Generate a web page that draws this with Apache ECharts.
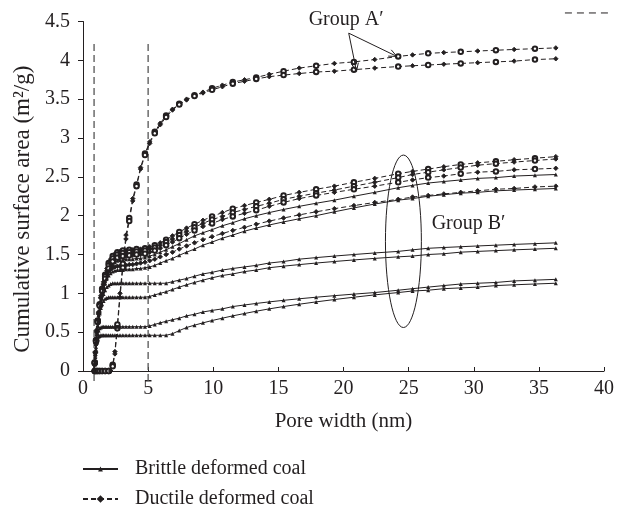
<!DOCTYPE html>
<html><head><meta charset="utf-8">
<script src="https://cdn.jsdelivr.net/npm/echarts@6/dist/echarts.min.js"></script>
<style>html,body{margin:0;padding:0;background:#fff}#c{width:617px;height:511px}</style>
</head><body><div id="c"></div>
<script>
// Pore width grid (nm)
const poreWidth = [0.85,0.9,0.95,1.0,1.06,1.13,1.2,1.28,1.37,1.47,1.58,1.7,1.83,1.97,2.12,2.28,2.45,2.64,2.84,3.06,3.3,3.55,3.82,4.11,4.42,4.76,5.12,5.51,5.93,6.38,6.87,7.39,7.95,8.56,9.21,9.91,10.7,11.5,12.4,13.3,14.3,15.4,16.6,17.9,19.3,20.8,22.4,24.2,25.3,26.5,27.7,29.0,30.3,31.7,33.1,34.7,36.3];

// Ductile deformed coal — Group A'
const ductileA1 = [0,0,0,0,0,0,0,0,0,0,0,0,0,0, 0,0.08,0.25,0.6,1.0,1.38,1.75,1.97,2.22,2.4, 2.62,2.8,2.95,3.08,3.19,3.29,3.37,3.44,3.5,3.55, 3.59,3.64,3.68,3.72,3.75,3.78,3.82,3.86,3.9,3.93, 3.96,3.98,4.01,4.05,4.07,4.09,4.1,4.11,4.12,4.13, 4.14,4.15,4.16];
const ductileA2 = [0,0,0,0,0,0,0,0,0,0,0,0,0,0, 0,0.06,0.22,0.55,0.95,1.33,1.7,1.93,2.19,2.38, 2.6,2.78,2.93,3.06,3.17,3.27,3.36,3.43,3.49,3.54, 3.58,3.62,3.66,3.7,3.73,3.76,3.79,3.81,3.83,3.85, 3.86,3.88,3.9,3.92,3.93,3.94,3.95,3.96,3.97,3.98, 3.99,4.01,4.02];
// Ductile deformed coal — Group B'
const ductileB1 = [0,0.11,0.25,0.4,0.53,0.65,0.76,0.86,0.97,1.06, 1.15,1.24,1.32,1.39,1.44,1.48,1.51,1.53,1.54,1.55, 1.55,1.56,1.56,1.57,1.57,1.58,1.6,1.62,1.65,1.69, 1.74,1.79,1.84,1.89,1.94,1.99,2.04,2.09,2.13,2.17, 2.21,2.26,2.3,2.34,2.38,2.43,2.48,2.54,2.57,2.6, 2.63,2.66,2.68,2.7,2.72,2.74,2.76];
const ductileB2 = [0,0.11,0.24,0.39,0.52,0.64,0.75,0.85,0.95,1.04, 1.13,1.22,1.29,1.36,1.41,1.45,1.48,1.5,1.51,1.52, 1.52,1.53,1.53,1.54,1.54,1.55,1.57,1.59,1.62,1.66, 1.7,1.75,1.8,1.85,1.9,1.95,1.99,2.04,2.08,2.12, 2.16,2.21,2.25,2.29,2.33,2.38,2.43,2.49,2.53,2.56, 2.59,2.62,2.65,2.67,2.69,2.71,2.73];
const ductileB3 = [0,0.1,0.24,0.38,0.51,0.63,0.74,0.84,0.94,1.03, 1.11,1.19,1.26,1.32,1.37,1.41,1.44,1.46,1.47,1.48, 1.48,1.49,1.49,1.5,1.5,1.51,1.53,1.55,1.58,1.62, 1.66,1.71,1.76,1.81,1.86,1.9,1.95,1.99,2.03,2.07, 2.12,2.17,2.22,2.26,2.3,2.34,2.38,2.43,2.46,2.49, 2.51,2.54,2.56,2.57,2.59,2.6,2.61];
const ductileB4 = [0,0.1,0.23,0.36,0.5,0.62,0.73,0.84,0.94,1.03, 1.11,1.18,1.24,1.28,1.31,1.33,1.34,1.35,1.35,1.36, 1.36,1.37,1.37,1.38,1.39,1.4,1.42,1.44,1.47,1.5, 1.53,1.57,1.61,1.65,1.69,1.73,1.77,1.81,1.85,1.89, 1.93,1.97,2.01,2.05,2.09,2.13,2.17,2.21,2.24,2.26, 2.28,2.3,2.32,2.34,2.35,2.37,2.38];

// Brittle deformed coal
const brittle1 = [0,0.1,0.23,0.37,0.5,0.62,0.72,0.82,0.92,1.01, 1.09,1.16,1.23,1.29,1.34,1.37,1.4,1.42,1.43,1.43, 1.44,1.44,1.44,1.45,1.45,1.46,1.48,1.5,1.53,1.56, 1.6,1.64,1.69,1.74,1.78,1.82,1.87,1.91,1.96,2.0, 2.04,2.08,2.12,2.16,2.2,2.25,2.3,2.36,2.39,2.42, 2.44,2.46,2.48,2.49,2.51,2.52,2.53];
const brittle2 = [0,0.1,0.22,0.35,0.48,0.59,0.69,0.79,0.89,0.98, 1.06,1.13,1.19,1.23,1.26,1.28,1.29,1.3,1.3,1.3, 1.31,1.31,1.31,1.32,1.32,1.33,1.34,1.36,1.39,1.42, 1.45,1.49,1.53,1.57,1.62,1.66,1.71,1.75,1.8,1.84, 1.88,1.92,1.96,2.0,2.05,2.1,2.15,2.2,2.22,2.25, 2.27,2.29,2.3,2.32,2.33,2.34,2.35];
const brittle3 = [0,0.1,0.22,0.35,0.48,0.58,0.68,0.77,0.86,0.93, 0.99,1.04,1.08,1.1,1.12,1.13,1.13,1.13,1.13,1.13, 1.13,1.13,1.13,1.13,1.13,1.13,1.13,1.13,1.13,1.13, 1.15,1.17,1.19,1.22,1.25,1.27,1.3,1.32,1.34,1.36, 1.39,1.41,1.44,1.46,1.48,1.5,1.52,1.54,1.56,1.58, 1.59,1.6,1.61,1.62,1.63,1.64,1.65];
const brittle4 = [0,0.1,0.22,0.35,0.47,0.57,0.66,0.74,0.81,0.86, 0.9,0.93,0.94,0.95,0.95,0.95,0.95,0.95,0.95,0.95, 0.95,0.95,0.95,0.95,0.95,0.95,0.96,0.98,1.0,1.02, 1.05,1.08,1.11,1.14,1.17,1.2,1.23,1.25,1.28,1.3, 1.33,1.35,1.37,1.39,1.41,1.43,1.45,1.47,1.48,1.5, 1.51,1.53,1.54,1.55,1.56,1.57,1.58];
const brittle5 = [0,0.09,0.2,0.31,0.41,0.48,0.52,0.55,0.56,0.57, 0.57,0.57,0.57,0.57,0.57,0.57,0.57,0.57,0.57,0.57, 0.57,0.57,0.57,0.57,0.57,0.57,0.58,0.6,0.62,0.64, 0.66,0.68,0.71,0.73,0.76,0.78,0.8,0.83,0.85,0.87, 0.89,0.91,0.93,0.95,0.97,0.99,1.01,1.04,1.06,1.08, 1.1,1.12,1.13,1.14,1.16,1.17,1.18];
const brittle6 = [0,0.08,0.18,0.28,0.36,0.41,0.44,0.45,0.46,0.46, 0.46,0.46,0.46,0.46,0.46,0.46,0.46,0.46,0.46,0.46, 0.46,0.46,0.46,0.46,0.46,0.46,0.46,0.46,0.46,0.46, 0.48,0.52,0.56,0.59,0.62,0.65,0.68,0.71,0.74,0.77, 0.8,0.83,0.86,0.89,0.92,0.95,0.98,1.01,1.03,1.04, 1.06,1.07,1.08,1.1,1.11,1.12,1.13];

const legendNames = ['Brittle deformed coal', 'Ductile deformed coal'];
const referenceLinesX = [0.85, 5];

const FONT = '"Liberation Serif", "Times New Roman", serif';
const INK = '#231f20';

function pairs(ys) { return poreWidth.map((x, i) => [x, ys[i]]); }

const brittleSeries = [brittle1, brittle2, brittle3, brittle4, brittle5, brittle6].map(ys => ({
  name: legendNames[0], type: 'line', data: pairs(ys),
  symbol: 'triangle', symbolSize: 4, showAllSymbol: true,
  lineStyle: { color: INK, width: 1 }, itemStyle: { color: INK }, z: 3
}));
const altSymbol = (v, p) => (p.dataIndex % 2 ? 'emptyCircle' : 'diamond');
const ductileSeries = [ductileB4, ductileA1, ductileA2, ductileB1, ductileB2, ductileB3].map((ys, k) => ({
  name: legendNames[1], type: 'line', data: pairs(ys),
  symbol: k === 0 ? 'diamond' : altSymbol, symbolSize: 4.5, showAllSymbol: true,
  lineStyle: { color: INK, width: 1, type: [5, 3] },
  itemStyle: { color: INK, borderColor: INK, borderWidth: 0.9 }, z: 2
}));

const legendCommon = {
  orient: 'vertical', left: 82, padding: 0,
  itemWidth: 35, itemHeight: 6, selectedMode: false,
  textStyle: { fontFamily: FONT, fontSize: 20, color: INK, padding: [0, 0, 0, 12] }
};

const chart = echarts.init(document.getElementById('c'), null, { renderer: 'canvas' });
const option = {
  animation: false,
  backgroundColor: '#fff',
  grid: { left: 83, right: 12, top: 21.5, bottom: 140, containLabel: false },
  xAxis: {
    type: 'value', min: 0, max: 40, interval: 5,
    name: 'Pore width (nm)', nameLocation: 'middle', nameGap: 40,
    nameTextStyle: { fontFamily: FONT, fontSize: 21, color: INK },
    axisLine: { lineStyle: { color: INK, width: 1 } },
    axisTick: { inside: true, length: 4, lineStyle: { color: INK } },
    axisLabel: { fontFamily: FONT, fontSize: 20, color: INK, margin: 8 },
    splitLine: { show: false }
  },
  yAxis: {
    type: 'value', min: 0, max: 4.5, interval: 0.5,
    name: 'Cumulative surface area (m\u00B2/g)', nameLocation: 'middle', nameGap: 48, nameRotate: 90,
    nameTextStyle: { fontFamily: FONT, fontSize: 23, color: INK, padding: [0, 26, 0, 0] },
    axisLine: { show: true, lineStyle: { color: INK, width: 1 } },
    axisTick: { show: true, inside: false, length: 5, lineStyle: { color: INK } },
    axisLabel: { fontFamily: FONT, fontSize: 20, color: INK, margin: 13 },
    splitLine: { show: false }
  },
  legend: [
    Object.assign({ data: [legendNames[0]], top: 459 }, legendCommon),
    Object.assign({ data: [legendNames[1]], top: 489 }, legendCommon)
  ],
  series: [...brittleSeries, ...ductileSeries]
};
chart.setOption(option);

// Annotations placed through the chart's own scales
const P = (x, y) => chart.convertToPixel({ gridIndex: 0 }, [x, y]);
const annoA = { label: [20.2, 4.52], from: [20.4, 4.35], to: [[24.1, 4.05], [21.0, 3.86]] };
const annoB = { label: [29.6, 1.9], ellipseC: [24.6, 1.67], ellipseR: [1.38, 1.11] };
const strayDash = [[37.0, 4.61], [40.6, 4.61]];

const g = [];
referenceLinesX.forEach(x => {
  const a = P(x, -0.13), b = P(x, 4.25);
  g.push({ type: 'line', shape: { x1: a[0], y1: a[1], x2: b[0], y2: b[1] },
    style: { stroke: '#555', lineWidth: 1.3, lineDash: [7, 4] }, z: 1 });
});
const s = P(annoA.from[0], annoA.from[1]);
annoA.to.forEach(t => {
  const e = P(t[0], t[1]);
  g.push({ type: 'line', shape: { x1: s[0], y1: s[1], x2: e[0], y2: e[1] }, style: { stroke: INK, lineWidth: 1 }, z: 10 });
  const dx = e[0] - s[0], dy = e[1] - s[1], L = Math.hypot(dx, dy), ux = dx / L, uy = dy / L;
  const bx = e[0] - 8 * ux, by = e[1] - 8 * uy;
  g.push({ type: 'polyline', shape: { points: [[bx - 3.5 * uy, by + 3.5 * ux], [e[0], e[1]], [bx + 3.5 * uy, by - 3.5 * ux]] },
    style: { stroke: INK, lineWidth: 1, fill: null }, z: 10 });
});
const la = P(annoA.label[0], annoA.label[1]);
g.push({ type: 'text', x: la[0], y: la[1], style: { text: 'Group A\u2032', font: '20px ' + FONT, fill: INK, align: 'center', verticalAlign: 'middle' }, z: 10 });
const ec = P(annoB.ellipseC[0], annoB.ellipseC[1]);
const er = P(annoB.ellipseC[0] + annoB.ellipseR[0], annoB.ellipseC[1] + annoB.ellipseR[1]);
g.push({ type: 'ellipse', shape: { cx: ec[0], cy: ec[1], rx: Math.abs(er[0] - ec[0]), ry: Math.abs(er[1] - ec[1]) },
  style: { stroke: INK, lineWidth: 1, fill: null }, z: 10 });
const lb = P(annoB.label[0], annoB.label[1]);
g.push({ type: 'text', x: lb[0], y: lb[1], style: { text: 'Group B\u2032', font: '20px ' + FONT, fill: INK, align: 'center', verticalAlign: 'middle' }, z: 10 });
const d1 = P(strayDash[0][0], strayDash[0][1]), d2 = P(strayDash[1][0], strayDash[1][1]);
g.push({ type: 'line', shape: { x1: d1[0], y1: d1[1], x2: d2[0], y2: d2[1] }, style: { stroke: INK, lineWidth: 1, lineDash: [7, 5] }, z: 10 });

chart.setOption({ graphic: g });
</script>
</body></html>
